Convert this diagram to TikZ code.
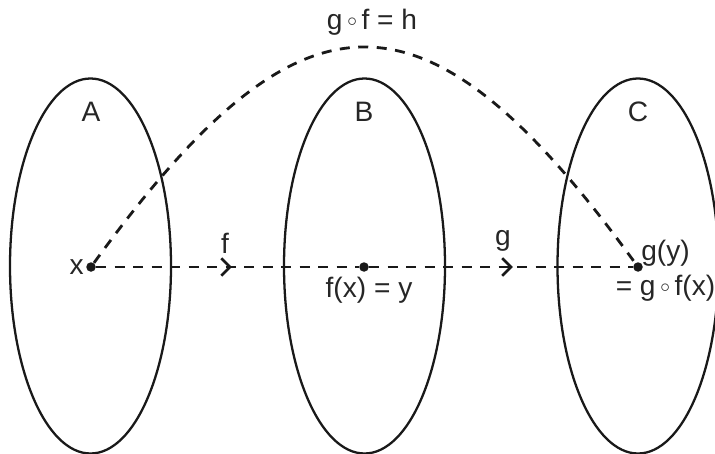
\documentclass[tikz,border=0pt]{standalone}
\usepackage{fontspec}
\setmainfont{Liberation Sans}
\usetikzlibrary{arrows.meta,decorations.markings}

\newcommand{\cmp}{\,\raisebox{1.5pt}{$\scriptstyle\circ$}\,}

\begin{document}
\begin{tikzpicture}[
  every node/.style={font=\fontsize{16}{20}\selectfont, text=black!85},
  dot/.style={circle, fill=black!90, inner sep=0pt, minimum size=0.19cm},
  setline/.style={line width=1.3pt, draw=black!90},
  mapline/.style={line width=1.6pt, draw=black!90, dash pattern=on 0.2cm off 0.17cm},
  midarrow/.style={postaction={decorate}, decoration={markings,
    mark=at position #1 with {\arrow{Straight Barb[length=5pt,width=10pt,line width=1.5pt]}}}}
]
  \useasboundingbox (0,0) rectangle (14.3,9.06);
  % the three sets
  \draw[setline] (1.81,3.74) ellipse (1.61 and 3.75);
  \draw[setline] (7.29,3.74) ellipse (1.61 and 3.75);
  \draw[setline] (12.76,3.74) ellipse (1.61 and 3.75);
  \node (setA) at (1.82,6.82) {A};
  \node (setB) at (7.28,6.82) {B};
  \node (setC) at (12.76,6.82) {C};

  % elements and their images
  \node[dot] (ptx) at (1.82,3.72) {};
  \node[dot] (pty) at (7.28,3.72) {};
  \node[dot] (ptz) at (12.76,3.72) {};
  \node[anchor=east, inner sep=1pt] (labx) at (ptx.west) {x};
  \node (laby) at (7.38,3.26) {f(x) = y};
  \node[align=center] (labz) at (13.31,3.65) {g(y)\\= g\cmp f(x)};

  % the maps f, g and h
  \draw[mapline, midarrow=0.517] (ptx) -- (pty);
  \draw[mapline, midarrow=0.545] (pty) -- (ptz);
  \draw[mapline] (ptx) .. controls (6.06,9.56) and (8.52,9.56) .. (ptz);
  \node (mapf) at (4.5,4.2) {f};
  \node (mapg) at (10.06,4.24) {g};
  \node (maph) at (7.44,8.62) {g\cmp f = h};
\end{tikzpicture}
\end{document}
